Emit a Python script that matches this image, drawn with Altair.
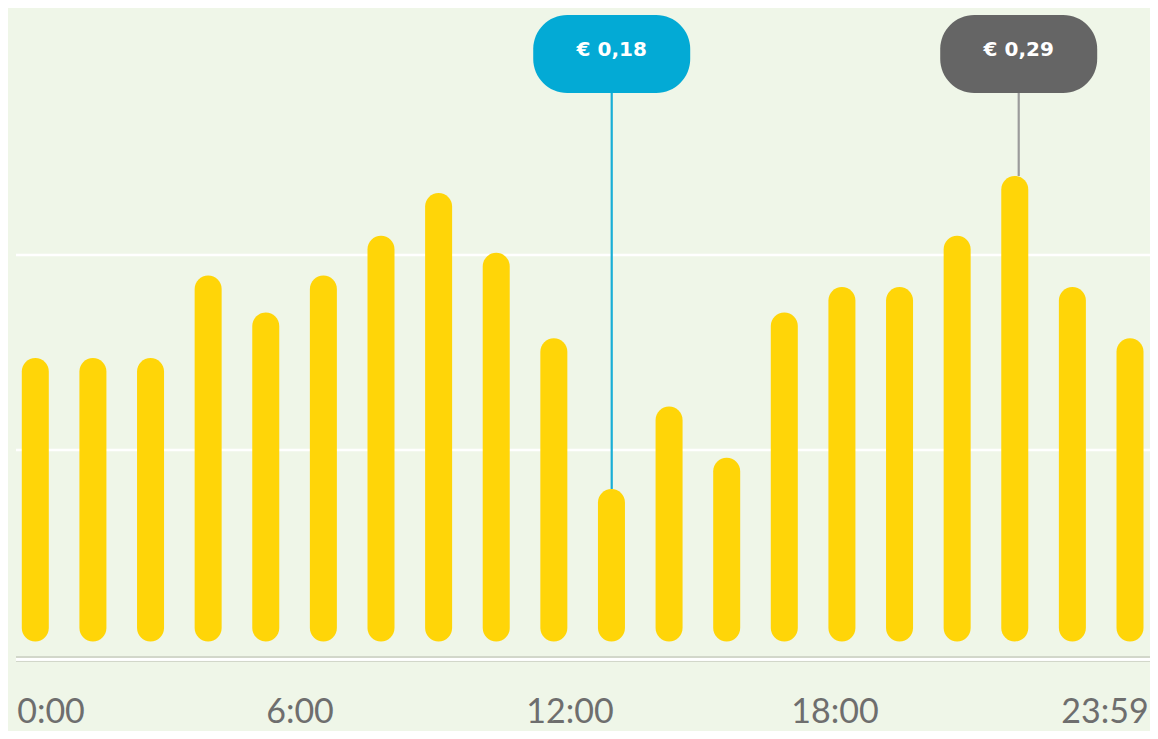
import altair as alt
import pandas as pd

# ---- data ----
hours = list(range(20))
prices = [0.226, 0.226, 0.226, 0.255, 0.242, 0.255, 0.269, 0.284, 0.263, 0.233,
          0.180, 0.209, 0.191, 0.242, 0.251, 0.251, 0.269, 0.290, 0.251, 0.233]

callout_hours = [10, 17]
callout_prices = [0.18, 0.29]
callout_labels = ["€ 0,18", "€ 0,29"]
callout_fill = ["#03aad5", "#656565"]
callout_line = ["#19aed6", "#9b9b9b"]

grid_values = [0.1937, 0.2622]

tick_labels = ["0:00", "6:00", "12:00", "18:00", "23:59"]
tick_minutes = [0, 360, 720, 1080, 1439]

# ---- layout ----
W, H = 1142, 723
BG = "#eff6e8"
BASE = 0.1264

bars_df = pd.DataFrame({"hour": hours, "price": prices})
call_df = pd.DataFrame({"hour": callout_hours, "price": callout_prices,
                        "label": callout_labels, "fill": callout_fill,
                        "line": callout_line})
grid_df = pd.DataFrame({"v": grid_values})
tick_df = pd.DataFrame({"t": tick_labels, "m": tick_minutes})

xs = alt.Scale(domain=[0, 19], range=[22.3, 1127], zero=False, nice=False)
ys = alt.Scale(domain=[BASE, 0.29], range=[633.5, 168], zero=False, nice=False)

grid = alt.Chart(grid_df).mark_rule(color="white", strokeWidth=2.5).encode(
    y=alt.Y("v:Q", scale=ys, axis=None),
    x=alt.value(8), x2=alt.value(W),
)

base_gray = alt.Chart(grid_df).mark_rule(color="#d2d7ca", strokeWidth=6).encode(
    y=alt.value(651), x=alt.value(8), x2=alt.value(W),
)
base_white = alt.Chart(grid_df).mark_rule(color="white", strokeWidth=2.6).encode(
    y=alt.value(651.4), x=alt.value(8), x2=alt.value(W),
)

connectors = alt.Chart(call_df).mark_rule(strokeWidth=2.2).encode(
    x=alt.X("hour:Q", scale=xs, axis=None),
    y=alt.Y("price:Q", scale=ys, axis=None),
    y2=alt.value(85),
    color=alt.Color("line:N", scale=None, legend=None),
)

bars = alt.Chart(bars_df).mark_bar(size=27, cornerRadius=13.5, color="#ffd508").encode(
    x=alt.X("hour:Q", scale=xs, axis=None),
    y=alt.Y("price:Q", scale=ys, axis=None),
    y2=alt.datum(BASE),
)

boxes = alt.Chart(call_df).transform_calculate(
    lo="datum.hour - 1.35", hi="datum.hour + 1.35"
).mark_rect(cornerRadius=34).encode(
    x=alt.X("lo:Q", scale=xs, axis=None),
    x2="hi:Q",
    y=alt.value(7), y2=alt.value(85),
    color=alt.Color("fill:N", scale=None, legend=None),
)

box_text = alt.Chart(call_df).mark_text(
    font="DejaVu Sans", fontWeight="bold", fontSize=20, color="white",
    baseline="middle", align="center"
).encode(
    x=alt.X("hour:Q", scale=xs, axis=None),
    y=alt.value(41.5),
    text="label:N",
)

ticks = alt.Chart(tick_df).mark_text(
    font="Lato", fontSize=34, color="#6e6e6e", baseline="bottom", align="center"
).encode(
    x=alt.X("m:Q", scale=alt.Scale(domain=tick_minutes, range=[43, 292, 562, 827, 1097],
                                   zero=False, nice=False), axis=None),
    y=alt.value(722),
    text="t:N",
)

chart = alt.layer(
    grid, base_gray, base_white, connectors, bars, boxes, box_text, ticks
).resolve_scale(x="independent").properties(
    width=W, height=H, background=BG, padding=0,
    autosize=alt.AutoSizeParams(type="none"),
).configure_view(stroke=None, fill=BG)

chart.save("out.html", embed_options={"renderer": "svg", "actions": False})
